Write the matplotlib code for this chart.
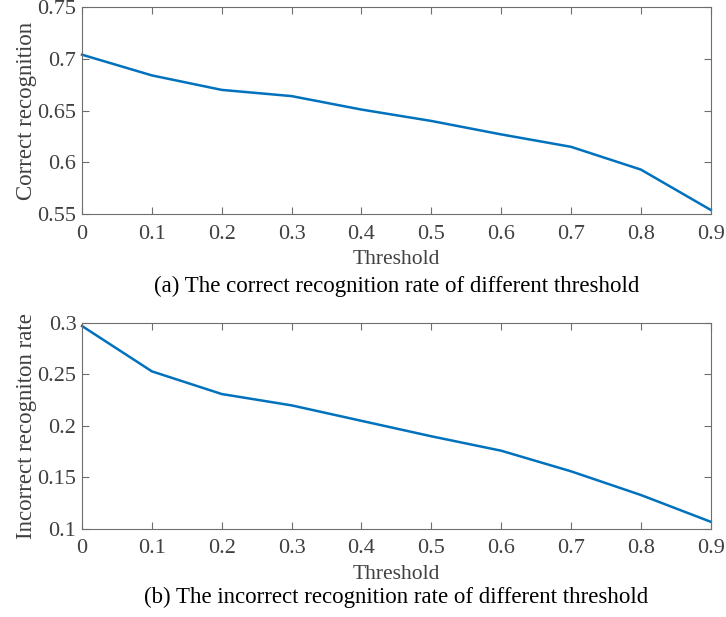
import numpy as np
import matplotlib
matplotlib.use('Agg')
import matplotlib.pyplot as plt

plt.rcParams['font.family'] = ['Liberation Serif', 'DejaVu Serif']
plt.rcParams['font.size'] = 16

# data
threshold = [0, 0.1, 0.2, 0.3, 0.4, 0.5, 0.6, 0.7, 0.8, 0.9]
correct_rate = [0.704, 0.684, 0.670, 0.664, 0.651, 0.640, 0.627, 0.615, 0.593, 0.554]
incorrect_rate = [0.297, 0.253, 0.231, 0.220, 0.205, 0.190, 0.176, 0.156, 0.133, 0.107]

x_ticks = [0, 0.1, 0.2, 0.3, 0.4, 0.5, 0.6, 0.7, 0.8, 0.9]
x_ticklabels = ['0', '0.1', '0.2', '0.3', '0.4', '0.5', '0.6', '0.7', '0.8', '0.9']
y_ticks_a = [0.55, 0.6, 0.65, 0.7, 0.75]
y_ticklabels_a = ['0.55', '0.6', '0.65', '0.7', '0.75']
y_ticks_b = [0.1, 0.15, 0.2, 0.25, 0.3]
y_ticklabels_b = ['0.1', '0.15', '0.2', '0.25', '0.3']

LINE_COLOR = '#0072BD'
TEXT_COLOR = '#404040'
AXIS_COLOR = '#6e6e6e'


def style_axes(ax, yticks, yticklabels, ylim, ylabel):
    ax.set_xlim(0, 0.9)
    ax.set_ylim(*ylim)
    ax.set_xticks(x_ticks)
    ax.set_xticklabels(x_ticklabels)
    ax.set_yticks(yticks)
    ax.set_yticklabels(yticklabels)
    ax.tick_params(direction='in', length=5, width=0.8, top=True, right=True,
                   colors=AXIS_COLOR, labelcolor=TEXT_COLOR, labelsize=16)
    ax.tick_params(axis='x', pad=7.5)
    ax.tick_params(axis='y', pad=4)
    for sp in ax.spines.values():
        sp.set_color(AXIS_COLOR)
        sp.set_linewidth(0.8)
    ax.set_xlabel('Threshold', color=TEXT_COLOR, fontsize=15.5, labelpad=4.5)
    ax.set_ylabel(ylabel, color=TEXT_COLOR, fontsize=16.5)
    ax.yaxis.set_label_coords(-0.072, 0.5)


fig = plt.figure(figsize=(7.26, 6.17), dpi=100)
ax1 = fig.add_axes([0.113, 0.653, 0.866, 0.3355])
ax2 = fig.add_axes([0.113, 0.1426, 0.866, 0.334])

ax1.plot(threshold, correct_rate, color=LINE_COLOR, linewidth=1.8, clip_on=False)
style_axes(ax1, y_ticks_a, y_ticklabels_a, (0.55, 0.75), 'Correct recognition')

ax2.plot(threshold, incorrect_rate, color=LINE_COLOR, linewidth=1.8, clip_on=False)
style_axes(ax2, y_ticks_b, y_ticklabels_b, (0.1, 0.3), 'Incorrect recogniton rate')

fig.text(0.546, 0.535, '(a) The correct recognition rate of different threshold',
         ha='center', va='center', color='black', fontsize=16.5)
fig.text(0.546, 0.031, '(b) The incorrect recognition rate of different threshold',
         ha='center', va='center', color='black', fontsize=16.5)

fig.savefig('out.png', dpi=100)
